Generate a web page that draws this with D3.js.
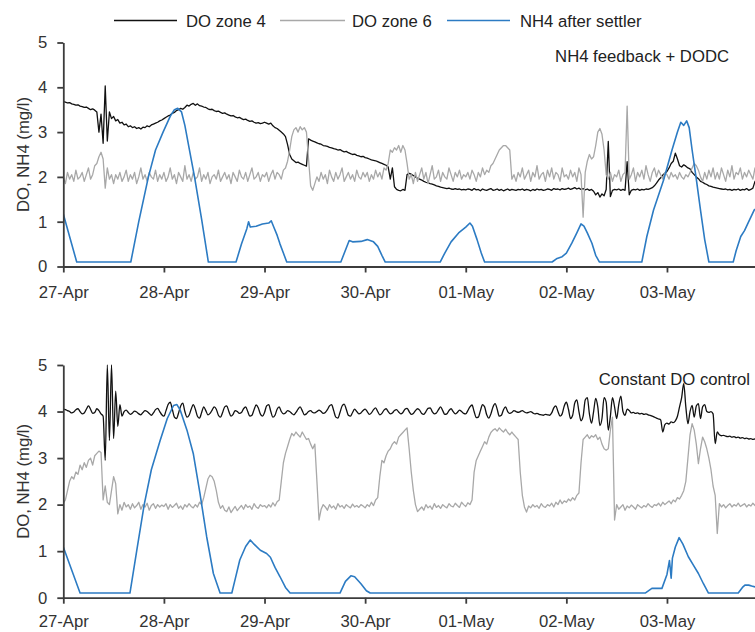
<!DOCTYPE html>
<html>
<head>
<meta charset="utf-8">
<script src="https://cdn.jsdelivr.net/npm/d3@7"></script>
<style>
  body { margin: 0; background: #fff; }
  svg { display: block; font-family: "Liberation Sans", Arial, sans-serif; }
</style>
</head>
<body>
<div id="svg-container"></div>
<script>
////////////////////////////////////////////////////////////////////
////////////////////////////  Data  ////////////////////////////////
// DO series are sampled every half hour from 27-Apr 00:00
const stepHours = 0.5;
const tickLabels = ["27-Apr", "28-Apr", "29-Apr", "30-Apr", "01-May", "02-May", "03-May"];
const yTicks = [0, 1, 2, 3, 4, 5];
const seriesNames = ["DO zone 4", "DO zone 6", "NH4 after settler"];
const panelTitles = ["NH4 feedback + DODC", "Constant DO control"];

// top panel: NH4 feedback + DODC
const doZone4Top = [
  3.68,3.67,3.65,3.66,3.63,3.62,3.6,3.61,3.58,3.57,3.55,3.56,3.53,3.5,3.52,3.49,3.45,3.0,3.4,2.75,4.03,2.8,3.45,3.3,
  3.35,3.25,3.28,3.2,3.22,3.16,3.18,3.12,3.14,3.1,3.12,3.08,3.1,3.07,3.11,3.1,3.14,3.12,3.16,3.18,3.2,3.22,3.25,3.27,
  3.3,3.33,3.36,3.38,3.42,3.44,3.48,3.5,3.53,3.51,3.55,3.6,3.58,3.62,3.64,3.6,3.63,3.59,3.58,3.56,3.55,3.52,3.5,3.51,
  3.48,3.46,3.47,3.44,3.42,3.43,3.4,3.38,3.36,3.37,3.34,3.32,3.33,3.3,3.28,3.29,3.26,3.24,3.25,3.22,3.2,3.21,3.19,3.2,
  3.22,3.2,3.18,3.2,3.14,3.1,3.08,3.04,3.0,2.96,2.9,2.72,2.5,2.4,2.36,2.32,2.33,2.3,2.28,2.26,2.24,2.85,2.82,2.8,
  2.78,2.76,2.74,2.73,2.7,2.69,2.68,2.66,2.65,2.63,2.62,2.6,2.61,2.58,2.56,2.57,2.54,2.52,2.5,2.51,2.48,2.47,2.45,2.46,
  2.43,2.42,2.4,2.38,2.37,2.36,2.34,2.32,2.3,2.28,2.26,2.22,1.95,2.2,1.78,1.72,1.7,1.69,1.72,1.7,2.05,2.08,2.06,2.03,
  2.0,1.97,1.95,1.93,1.9,1.88,1.87,1.85,1.84,1.82,1.8,1.79,1.77,1.76,1.75,1.74,1.75,1.73,1.72,1.74,1.72,1.73,1.71,1.72,
  1.71,1.73,1.72,1.7,1.74,1.71,1.72,1.69,1.73,1.71,1.7,1.72,1.74,1.7,1.71,1.73,1.7,1.72,1.69,1.71,1.73,1.7,1.72,1.71,
  1.7,1.72,1.71,1.73,1.7,1.72,1.71,1.69,1.72,1.7,1.73,1.71,1.72,1.7,1.71,1.73,1.72,1.7,1.74,1.72,1.73,1.71,1.74,1.72,
  1.73,1.75,1.72,1.74,1.76,1.73,1.75,1.72,1.74,1.71,1.73,1.7,1.72,1.68,1.6,1.65,1.55,1.62,1.58,1.72,2.79,1.56,1.7,1.72,
  1.71,1.73,1.7,1.72,1.7,2.34,1.6,1.7,1.72,1.71,1.73,1.7,1.72,1.71,1.73,1.72,1.74,1.76,1.8,1.86,1.93,1.98,2.04,2.08,
  2.12,2.2,2.3,2.35,2.53,2.4,2.25,2.22,2.27,2.24,2.2,2.18,2.1,2.05,2.0,1.96,1.9,1.88,1.85,1.83,1.8,1.79,1.77,1.76,
  1.75,1.74,1.73,1.72,1.73,1.71,1.72,1.7,1.72,1.71,1.73,1.7,1.72,1.71,1.74,1.7,1.72,1.75,1.9,1.95,1.98,2.0,2.0,2.0
];
const doZone6Top = [
  2.0,1.85,2.1,1.95,2.05,1.9,2.15,1.95,2.0,2.1,1.9,2.05,2.2,1.95,2.05,2.25,2.3,2.45,2.55,2.4,1.75,2.2,1.95,2.05,
  1.85,2.05,1.95,2.1,1.9,2.0,2.15,1.9,2.05,1.95,2.1,1.85,2.0,2.2,1.95,2.05,1.9,2.1,2.0,1.95,2.15,1.9,2.05,1.95,
  2.1,1.9,2.0,2.2,1.95,2.05,1.85,2.1,2.0,1.9,2.25,1.95,2.05,1.9,2.1,1.95,2.0,2.2,1.9,2.05,1.95,2.1,1.85,2.0,
  2.05,1.95,2.15,1.9,2.0,2.1,1.95,2.05,1.85,2.1,2.0,1.9,2.15,2.0,1.95,2.1,1.9,2.05,2.2,1.95,2.0,2.1,1.9,2.05,
  2.0,2.1,1.9,2.05,2.15,1.95,2.1,2.05,1.95,2.15,2.2,2.35,2.6,2.9,3.05,3.1,3.0,3.12,3.05,3.1,3.0,2.4,1.8,1.7,
  1.85,2.0,1.9,2.1,1.95,2.05,1.85,2.15,2.0,1.9,2.1,1.95,2.05,2.2,1.9,2.0,2.1,1.95,2.05,1.9,2.15,2.0,1.95,2.1,
  2.0,2.1,1.9,2.05,1.95,2.15,2.0,2.1,1.95,2.2,2.15,2.3,2.6,2.55,2.65,2.6,2.7,2.55,2.7,2.6,2.3,1.95,2.05,1.85,
  2.1,1.9,2.05,2.2,1.95,2.1,1.85,2.05,2.25,1.95,2.0,2.15,1.9,2.1,2.0,1.95,2.2,2.05,1.9,2.1,2.0,2.15,1.95,2.05,
  2.0,2.1,1.95,2.15,2.05,1.9,2.1,2.0,2.2,2.05,2.15,2.1,2.25,2.3,2.4,2.5,2.6,2.65,2.7,2.7,2.65,2.6,1.95,2.05,
  1.9,2.1,2.0,2.2,1.95,2.05,2.15,1.9,2.1,2.0,2.25,1.95,2.05,2.1,1.9,2.15,2.0,2.2,1.95,2.1,2.05,1.9,2.2,2.0,
  2.05,1.95,2.15,2.0,2.1,1.9,2.2,2.05,1.1,2.1,2.35,2.5,2.4,2.45,2.7,3.0,3.08,2.95,2.6,2.05,1.95,2.1,1.9,2.05,
  2.0,2.15,1.9,2.05,2.1,3.58,1.95,2.05,2.2,1.9,2.1,2.0,2.15,1.95,2.25,2.05,1.9,2.1,2.2,2.0,2.15,2.05,1.95,2.1,
  2.05,1.95,2.1,2.0,2.05,1.95,2.1,2.0,1.95,2.05,2.0,2.1,2.2,2.3,2.25,2.15,2.0,1.9,2.1,1.95,2.15,2.0,2.2,1.95,
  2.1,1.95,2.2,2.05,1.9,2.15,2.0,2.25,1.95,2.1,2.05,2.2,1.95,2.1,2.0,2.15,2.05,1.95,2.2,2.0,2.1,2.05,1.95,2.1
];
// NH4 as [hour, mg/l] breakpoints
const nh4Top = [
  [0,1.17],[3.2,0.1],[16.1,0.1],[18,1.0],[20.3,2.0],[22,2.6],[23.8,3.0],[25.5,3.35],[26.5,3.5],[27.3,3.53],
  [28.2,3.45],[29,3.15],[30,2.65],[31.3,2.0],[33,1.05],[34.6,0.1],[41.2,0.1],[42.5,0.5],[43.8,0.85],[44.2,1.0],
  [44.6,0.88],[46,0.9],[47.5,0.95],[49,0.97],[49.6,1.02],[50.2,0.88],[51,0.7],[51.7,0.5],[52.5,0.3],[53.3,0.1],
  [66.2,0.1],[68.2,0.58],[69,0.55],[71,0.56],[72.5,0.6],[74,0.55],[75,0.45],[76,0.25],[76.8,0.1],[89.9,0.1],
  [91,0.3],[92.5,0.55],[94.3,0.75],[96,0.88],[97,0.97],[97.6,0.9],[98.7,0.6],[99.7,0.3],[100.5,0.1],[116.6,0.1],
  [117.8,0.18],[119,0.22],[120,0.3],[121.3,0.52],[122.5,0.75],[123.5,0.95],[124.2,0.9],[125,0.75],[126.1,0.52],
  [127,0.25],[127.9,0.1],[138,0.1],[139.2,0.67],[140.8,1.26],[143.2,1.93],[145.2,2.6],[146.5,3.0],[147.3,3.22],
  [148,3.15],[148.7,3.25],[149.3,3.1],[150,2.6],[151,1.95],[152,1.26],[153,0.6],[154,0.1],[159.8,0.1],
  [160.5,0.35],[161.6,0.67],[162.5,0.8],[163.5,1.0],[164.8,1.26],[165.5,1.3]
];

// bottom panel: constant DO control
const doZone4Bottom = [
  4.05,4.04,4.02,4.0,3.97,3.99,4.04,4.06,4.0,3.95,3.97,4.05,4.12,4.05,3.96,3.98,4.06,4.02,3.95,3.9,2.95,5.0,3.38,5.0,
  3.42,4.44,3.68,4.15,3.9,4.0,4.03,3.98,3.94,3.97,4.01,3.99,3.95,3.93,3.98,4.02,4.0,3.96,3.92,3.97,4.04,4.07,4.0,3.93,
  3.9,4.02,4.15,4.2,4.05,3.88,3.85,3.97,4.12,4.18,4.0,3.88,3.92,4.05,4.15,4.05,3.9,3.86,3.98,4.1,4.02,3.93,3.96,4.03,
  4.1,4.05,3.92,3.88,3.98,4.1,4.12,4.0,3.9,3.94,4.02,4.0,3.96,3.98,4.06,4.1,4.0,3.9,3.92,4.04,4.14,4.08,3.95,3.9,
  3.98,4.12,4.15,4.0,3.88,3.92,4.05,4.1,4.0,3.95,3.97,4.02,4.0,3.96,3.93,3.98,4.05,4.1,4.02,3.93,3.95,4.0,4.02,3.98,
  3.97,4.0,4.03,4.0,3.96,3.98,4.04,4.12,4.15,4.02,3.88,3.86,3.98,4.12,4.16,4.05,3.92,3.9,3.98,4.05,4.0,3.95,3.97,4.02,
  4.05,4.0,3.94,3.97,4.04,4.08,4.0,3.93,3.96,4.03,4.06,4.0,3.95,3.97,4.02,4.04,3.99,3.95,3.98,4.05,4.07,4.0,3.94,3.96,
  4.02,4.06,4.03,3.96,3.94,4.0,4.07,4.08,4.0,3.95,3.97,4.04,4.1,4.02,3.94,3.95,4.02,4.06,4.0,3.95,3.98,4.03,4.0,3.96,
  3.95,4.02,4.1,4.14,4.0,3.87,3.88,4.02,4.15,4.1,3.93,3.86,3.95,4.1,4.17,4.05,3.9,3.92,4.04,4.1,4.0,3.96,3.98,4.02,
  4.0,3.98,4.0,4.02,3.99,3.97,3.98,4.0,3.97,3.95,3.96,3.94,3.93,3.92,3.94,3.93,3.92,3.97,4.08,4.12,4.0,3.9,3.95,4.12,
  4.2,4.05,3.85,3.92,4.18,4.25,4.0,3.8,3.9,4.25,4.3,3.95,3.75,4.0,4.28,4.1,3.7,3.85,4.3,4.2,3.6,3.9,4.3,4.1,
  3.85,4.15,4.33,4.0,3.92,4.05,4.02,3.97,3.98,3.96,3.97,3.95,3.96,3.94,3.95,3.93,3.92,3.9,3.88,3.86,3.84,3.82,3.56,3.72,
  3.75,3.73,3.78,3.76,3.8,3.9,4.1,4.3,4.6,4.1,3.74,4.0,4.13,3.88,4.12,4.17,3.85,4.1,4.15,4.0,3.98,4.0,3.95,3.31,
  3.56,3.5,3.48,3.49,3.47,3.46,3.47,3.45,3.46,3.44,3.45,3.43,3.44,3.42,3.43,3.41,3.42,3.4,3.41,3.4,3.4,3.4,3.4,3.4
];
const doZone6Bottom = [
  2.03,2.1,2.3,2.5,2.6,2.55,2.7,2.65,2.85,2.75,2.9,2.8,2.95,3.0,2.85,3.05,3.1,3.15,3.12,2.1,2.4,2.05,2.0,2.3,
  2.6,2.45,1.8,2.0,1.88,2.05,1.95,2.0,1.9,2.02,1.93,1.98,2.05,1.9,2.0,1.95,2.03,1.88,1.98,2.02,1.92,2.0,1.95,1.99,
  1.96,2.02,1.9,2.0,1.94,1.98,2.03,1.92,1.97,1.9,2.0,1.95,2.02,1.96,1.93,2.0,1.95,2.05,2.0,2.15,2.35,2.55,2.63,2.6,
  2.5,2.3,2.05,1.92,1.98,1.88,1.85,1.95,1.83,1.9,1.96,1.87,1.93,1.98,1.9,2.0,1.94,1.97,1.9,2.02,1.95,1.92,2.0,1.96,
  1.98,1.93,2.0,1.95,2.04,1.97,2.06,2.1,2.5,2.9,3.1,3.25,3.4,3.53,3.48,3.56,3.5,3.45,3.56,3.48,3.4,3.42,3.3,3.2,
  3.3,2.5,1.67,1.9,2.0,1.95,1.88,2.0,1.93,1.97,1.9,2.02,1.95,1.98,1.92,2.0,1.96,1.93,2.01,1.95,1.98,1.94,2.0,1.97,
  1.93,2.0,1.96,2.05,1.98,2.1,2.15,2.6,2.95,2.9,3.05,3.15,3.2,3.3,3.35,3.3,3.45,3.5,3.55,3.6,3.65,3.2,2.7,2.3,
  2.0,1.85,1.9,1.95,1.88,2.0,1.93,1.97,1.9,2.02,1.94,1.98,1.92,2.0,1.96,1.93,2.02,1.97,1.95,2.03,1.98,1.94,2.05,2.0,
  1.96,2.04,2.0,2.1,2.7,2.95,3.05,3.15,3.25,3.35,3.3,3.45,3.55,3.6,3.63,3.58,3.65,3.6,3.56,3.62,3.55,3.5,3.56,3.5,
  3.45,3.4,2.7,2.2,1.95,1.84,1.97,1.93,2.0,1.95,1.98,1.92,2.02,1.96,1.94,2.0,1.97,2.03,1.95,2.05,2.0,2.1,2.02,2.08,
  2.05,2.12,2.08,2.15,2.1,2.2,2.25,2.9,3.4,3.45,3.5,3.42,3.48,3.45,3.5,3.4,3.45,3.3,3.2,3.17,3.2,3.6,3.88,1.67,
  2.0,1.9,1.95,2.0,1.88,1.97,1.93,1.99,1.95,1.9,2.0,1.96,1.93,1.98,1.95,2.02,1.97,1.94,2.0,1.98,2.03,1.97,2.05,2.0,
  2.04,2.08,2.02,2.1,2.06,2.15,2.12,2.2,2.3,2.5,3.0,3.5,3.74,3.6,3.3,2.88,3.2,3.45,3.35,3.2,3.0,2.75,2.4,2.2,
  1.38,2.02,1.95,2.0,1.93,1.98,2.02,1.95,2.0,1.97,2.03,1.96,1.99,2.02,1.95,2.0,1.97,2.03,1.98,2.0,1.96,2.01,1.98,2.0
];
const nh4Bottom = [
  [0,1.09],[4,0.1],[15.9,0.1],[17.5,1.0],[19.3,2.0],[21,2.75],[23.1,3.38],[24.8,3.85],[26.3,4.13],[27.1,4.15],
  [27.9,4.03],[29.5,3.6],[31,3.1],[32.6,2.24],[34.2,1.31],[35.8,0.52],[37.4,0.1],[40.2,0.1],[41,0.4],[42.1,0.81],
  [43.5,1.1],[44.6,1.24],[45.5,1.15],[47,1.02],[48.5,0.95],[49.4,0.87],[50.5,0.65],[51.7,0.45],[53,0.22],[54.1,0.1],
  [66,0.1],[67.3,0.35],[68.6,0.47],[69.5,0.45],[71,0.3],[72.3,0.15],[73.2,0.1],[138.8,0.1],[140.4,0.2],[142.8,0.2],
  [144,0.5],[144.6,0.8],[145,0.42],[145.3,0.85],[146,1.09],[146.9,1.29],[147.8,1.15],[149.1,0.88],[150.3,0.7],
  [151.5,0.52],[152.7,0.3],[153.9,0.1],[161,0.1],[162,0.22],[162.6,0.27],[163.5,0.27],[164.2,0.25],[165.5,0.22]
];

////////////////////////////////////////////////////////////////////
////////////////////////////  Init  ///////////////////////////////
const width = 755;
const height = 632;
const colors = ["#111111", "#a8a8a8", "#2c7bc3"];
const axisColor = "#3c3c3c";
const fontSize = "16.7px";

const svg = d3.select("#svg-container").append("svg")
  .attr("width", width).attr("height", height);

const start = new Date(Date.UTC(2019, 3, 27));
const hourToDate = (h) => new Date(start.getTime() + h * 3600e3);

// x scale shared by both panels
const xScale = d3.scaleUtc()
  .domain([start, hourToDate(165)])
  .range([63.3, width]);

const tickDates = tickLabels.map((d, i) => hourToDate(i * 24));

const stepSeries = (values) => values.map((v, i) => [hourToDate(i * stepHours), v]);
const pairSeries = (pairs) => pairs.map((p) => [hourToDate(p[0]), p[1]]);

const panels = [
  { top: 42.5, bottom: 266.5, title: panelTitles[0], titleY: 62, titleX: 729, pad: 14,
    series: [stepSeries(doZone4Top), stepSeries(doZone6Top), pairSeries(nh4Top)], smoothBlack: false },
  { top: 365, bottom: 597.7, title: panelTitles[1], titleY: 385, titleX: 750, pad: 11,
    series: [stepSeries(doZone4Bottom), stepSeries(doZone6Bottom), pairSeries(nh4Bottom)], smoothBlack: true }
];

panels.forEach((p, pi) => {
  const yScale = d3.scaleLinear().domain([0, 5]).range([p.bottom, p.top]);

  // clip
  svg.append("clipPath").attr("id", "clip" + pi)
    .append("rect")
    .attr("x", xScale.range()[0])
    .attr("y", p.top - 1)
    .attr("width", width - xScale.range()[0])
    .attr("height", p.bottom - p.top + 2);

  const g = svg.append("g").attr("clip-path", `url(#clip${pi})`);

  p.series.forEach((data, si) => {
    const line = d3.line()
      .x((d) => xScale(d[0]))
      .y((d) => yScale(d[1]));
    if (si === 0 && p.smoothBlack) line.curve(d3.curveMonotoneX);
    g.append("path")
      .datum(data)
      .attr("fill", "none")
      .attr("stroke", colors[si])
      .attr("stroke-width", si === 2 ? 1.6 : 1.3)
      .attr("stroke-linejoin", "round")
      .attr("d", line);
  });

  // axes
  const xAxis = d3.axisBottom(xScale)
    .tickValues(tickDates)
    .tickFormat((d, i) => tickLabels[i])
    .tickSize(6)
    .tickSizeOuter(0)
    .tickPadding(p.pad);

  const yAxis = d3.axisLeft(yScale)
    .tickValues(yTicks)
    .tickFormat(d3.format("d"))
    .tickSize(6)
    .tickSizeOuter(0)
    .tickPadding(10);

  const gx = svg.append("g")
    .attr("transform", `translate(0,${p.bottom})`)
    .call(xAxis);
  const gy = svg.append("g")
    .attr("transform", `translate(${xScale.range()[0]},0)`)
    .call(yAxis);

  [gx, gy].forEach((ax) => {
    ax.select(".domain").attr("stroke", axisColor).attr("stroke-width", 1.8);
    ax.selectAll(".tick line").attr("stroke", axisColor).attr("stroke-width", 1.8);
    ax.selectAll(".tick text")
      .attr("fill", "#333")
      .style("font-size", fontSize)
      .style("font-family", '"Liberation Sans", Arial, sans-serif');
  });

  // y axis title
  svg.append("text")
    .attr("transform", `translate(29,${(p.top + p.bottom) / 2}) rotate(-90)`)
    .attr("text-anchor", "middle")
    .attr("fill", "#333")
    .style("font-size", fontSize)
    .text("DO, NH4 (mg/l)");

  // panel annotation
  svg.append("text")
    .attr("x", p.titleX)
    .attr("y", p.titleY)
    .attr("text-anchor", "end")
    .attr("fill", "#222")
    .style("font-size", fontSize)
    .text(p.title);
});

////////////////////////////////////////////////////////////////////
////////////////////////////  Legend  //////////////////////////////
const legendItems = [
  { x1: 114, x2: 177, tx: 186 },
  { x1: 280, x2: 345, tx: 352 },
  { x1: 447, x2: 510, tx: 520 }
];
const legend = svg.append("g");
legendItems.forEach((d, i) => {
  legend.append("line")
    .attr("x1", d.x1).attr("x2", d.x2)
    .attr("y1", 20.5).attr("y2", 20.5)
    .attr("stroke", colors[i])
    .attr("stroke-width", i === 2 ? 1.6 : 1.5);
  legend.append("text")
    .attr("x", d.tx)
    .attr("y", 26.5)
    .attr("fill", "#222")
    .style("font-size", fontSize)
    .text(seriesNames[i]);
});
</script>
</body>
</html>
